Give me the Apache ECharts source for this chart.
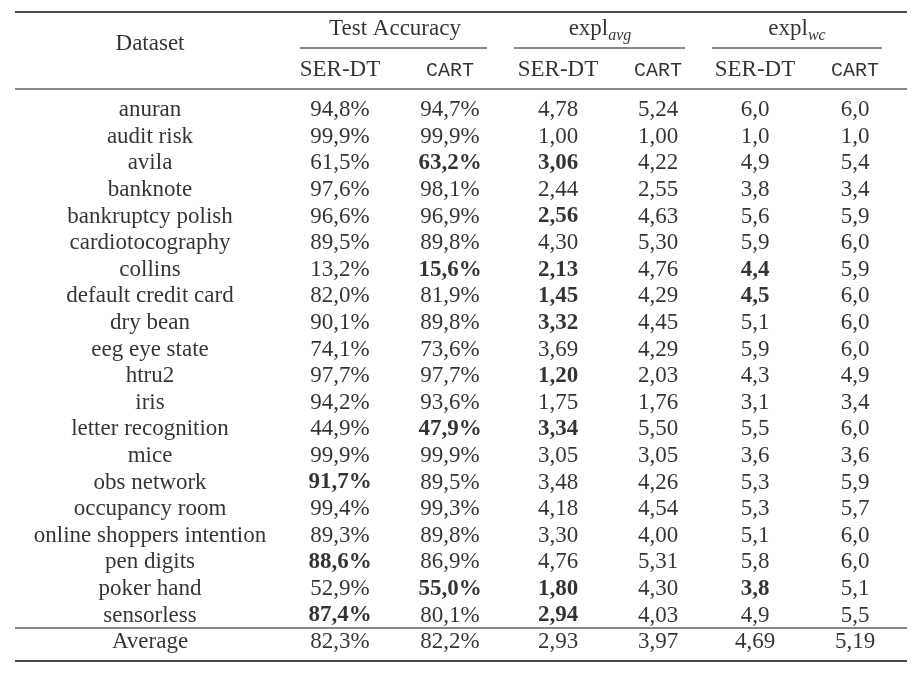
<!DOCTYPE html>
<html>
<head>
<meta charset="utf-8">
<script src="https://cdn.jsdelivr.net/npm/echarts@6/dist/echarts.min.js"></script>
<style>html,body{margin:0;background:#fff}#main{width:922px;height:678px}</style>
</head>
<body>
<div id="main"></div>
<script>
const datasets = ['anuran', 'audit risk', 'avila', 'banknote', 'bankruptcy polish', 'cardiotocography', 'collins',
  'default credit card', 'dry bean', 'eeg eye state', 'htru2', 'iris', 'letter recognition', 'mice', 'obs network',
  'occupancy room', 'online shoppers intention', 'pen digits', 'poker hand', 'sensorless', 'Average']
const accSer = ['94,8%', '99,9%', '61,5%', '97,6%', '96,6%', '89,5%', '13,2%', '82,0%', '90,1%', '74,1%', '97,7%', '94,2%', '44,9%', '99,9%', '91,7%', '99,4%', '89,3%', '88,6%', '52,9%', '87,4%', '82,3%']
const accCart = ['94,7%', '99,9%', '63,2%', '98,1%', '96,9%', '89,8%', '15,6%', '81,9%', '89,8%', '73,6%', '97,7%', '93,6%', '47,9%', '99,9%', '89,5%', '99,3%', '89,8%', '86,9%', '55,0%', '80,1%', '82,2%']
const avgSer = ['4,78', '1,00', '3,06', '2,44', '2,56', '4,30', '2,13', '1,45', '3,32', '3,69', '1,20', '1,75', '3,34', '3,05', '3,48', '4,18', '3,30', '4,76', '1,80', '2,94', '2,93']
const avgCart = ['5,24', '1,00', '4,22', '2,55', '4,63', '5,30', '4,76', '4,29', '4,45', '4,29', '2,03', '1,76', '5,50', '3,05', '4,26', '4,54', '4,00', '5,31', '4,30', '4,03', '3,97']
const wcSer = ['6,0', '1,0', '4,9', '3,8', '5,6', '5,9', '4,4', '4,5', '5,1', '5,9', '4,3', '3,1', '5,5', '3,6', '5,3', '5,3', '5,1', '5,8', '3,8', '4,9', '4,69']
const wcCart = ['6,0', '1,0', '5,4', '3,4', '5,9', '6,0', '5,9', '6,0', '6,0', '6,0', '4,9', '3,4', '6,0', '3,6', '5,9', '5,7', '6,0', '6,0', '5,1', '5,5', '5,19']
// [row, column] of bold cells
const boldCells = [[2, 2], [2, 3], [4, 3], [6, 2], [6, 3], [6, 5], [7, 3], [7, 5], [8, 3], [10, 3], [12, 2], [12, 3],
  [14, 1], [17, 1], [18, 2], [18, 3], [18, 5], [19, 1], [19, 3]]

// layout
const colX = [150, 340, 450, 558, 658, 755, 855]
const columns = [datasets, accSer, accCart, avgSer, avgCart, wcSer, wcCart]

let cells = []
columns.forEach((col, c) => {
  col.forEach((v, r) => {
    let bold = boldCells.some(b => b[0] === r && b[1] === c)
    cells.push([colX[c], r, v, bold ? 'b' : 'n'])
  })
})
let heads = [
  [150, -2.5, 'Dataset', 'n'],
  [395, -3.05, 'Test Accuracy', 'n'],
  [600, -3.05, 'avg', 'e'],
  [797, -3.05, 'wc', 'e']
]
for (let c = 1; c < 7; c++) heads.push([colX[c], -1.5, c % 2 ? 'SER-DT' : 'CART', c % 2 ? 'n' : 'm'])

const base = { fontFamily: 'Liberation Serif', fontSize: 23, color: '#000' }
let chart = echarts.init(document.getElementById('main'))
chart.setOption({
  animation: false,
  grid: { left: 0, right: 0, top: 0, bottom: 0 },
  xAxis: { type: 'value', min: 0, max: 922, show: false },
  yAxis: { type: 'value', min: -4.14, max: 21.35, inverse: true, show: false },
  series: [{
    type: 'scatter',
    symbolSize: 0,
    data: cells.concat(heads),
    label: {
      show: true,
      position: 'inside',
      color: '#000',
      textBorderWidth: 0,
      formatter: p => {
        let t = p.data[3]
        if (t === 'e') return '{n|expl}{s|' + p.data[2] + '}'
        return '{' + t + '|' + p.data[2] + '}'
      },
      rich: {
        n: base,
        b: Object.assign({}, base, { fontWeight: 'bold' }),
        m: { fontFamily: 'Liberation Mono', fontSize: 20, color: '#000' },
        s: { fontFamily: 'Liberation Serif', fontStyle: 'italic', fontSize: 16, color: '#000', padding: [14, 0, 0, 0] }
      }
    }
  }],
  graphic: [
    [15, 12, 907, 1.6], [300, 48, 487, 1], [514, 48, 685, 1], [712, 48, 882, 1],
    [15, 89, 907, 1], [15, 628, 907, 1], [15, 661, 907, 1.6]
  ].map(l => ({ type: 'line', shape: { x1: l[0], y1: l[1], x2: l[2], y2: l[1] }, style: { stroke: '#111', lineWidth: l[3] } }))
})
</script>
</body>
</html>
